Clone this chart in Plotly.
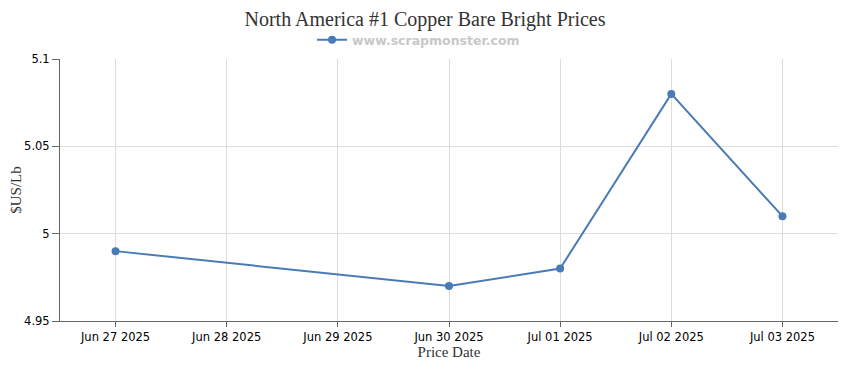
import plotly.graph_objects as go

dates = ["2025-06-27", "2025-06-30", "2025-07-01", "2025-07-02", "2025-07-03"]
prices = [4.99, 4.97, 4.98, 5.08, 5.01]
tick_dates = ["2025-06-27", "2025-06-28", "2025-06-29", "2025-06-30", "2025-07-01", "2025-07-02", "2025-07-03"]
tick_labels = ["Jun 27 2025", "Jun 28 2025", "Jun 29 2025", "Jun 30 2025", "Jul 01 2025", "Jul 02 2025", "Jul 03 2025"]
y_ticks = [4.95, 5.0, 5.05, 5.1]
y_labels = ["4.95", "5", "5.05", "5.1"]

color = "#4a7bb5"
serif = "Liberation Serif, Times New Roman, serif"
sans = "DejaVu Sans, Verdana, sans-serif"

fig = go.Figure()
fig.add_trace(go.Scatter(
    x=dates, y=prices, mode="lines+markers",
    name="<b>www.scrapmonster.com</b>",
    line=dict(color=color, width=2),
    marker=dict(color=color, size=8),
))

fig.update_layout(
    width=850, height=370,
    margin=dict(l=52, r=20, t=51, b=57, autoexpand=False),
    paper_bgcolor="white", plot_bgcolor="white",
    title=dict(text="North America #1 Copper Bare Bright Prices",
               font=dict(family=serif, size=20, color="#333333"),
               x=0.4906, xanchor="center", xref="container",
               y=0.99, yanchor="top", yref="container", pad=dict(t=0, b=0)),
    showlegend=True,
    legend=dict(orientation="h", x=0.483, xanchor="center", xref="container",
                y=0.913, yanchor="middle", yref="container",
                font=dict(family=sans, size=12.5, color="#c8c8c8"),
                itemwidth=30, bgcolor="rgba(0,0,0,0)"),
    xaxis=dict(
        range=["2025-06-26 12:00", "2025-07-03 12:00"],
        tickvals=tick_dates, ticktext=tick_labels,
        showgrid=True, gridcolor="#dddddd", gridwidth=1,
        showline=True, linecolor="#666666", linewidth=1,
        ticks="outside", ticklen=5, tickcolor="#666666",
        tickfont=dict(family=sans, size=11.5, color="#000000"),
        title=dict(text="Price Date", font=dict(family=serif, size=15, color="#333333"), standoff=1),
        zeroline=False, automargin=False,
    ),
    yaxis=dict(
        range=[4.95, 5.1],
        tickvals=y_ticks, ticktext=y_labels,
        showgrid=True, gridcolor="#dddddd", gridwidth=1,
        showline=True, linecolor="#666666", linewidth=1,
        ticks="outside", ticklen=7, tickcolor="#666666",
        tickfont=dict(family=sans, size=11.5, color="#000000"),
        title=dict(text="$US/Lb", font=dict(family=serif, size=15, color="#333333"), standoff=8),
        zeroline=False, automargin=False,
    ),
)

fig.write_html("out.html")
